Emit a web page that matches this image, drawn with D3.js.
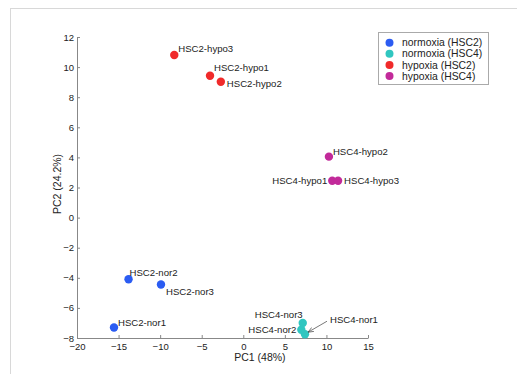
<!DOCTYPE html>
<html>
<head>
<meta charset="utf-8">
<script src="https://cdn.jsdelivr.net/npm/d3@7"></script>
<style>
  body { margin: 0; background: #fff; }
  text { font-family: "Liberation Sans", Arial, sans-serif; fill: #222; }
</style>
</head>
<body>
<div id="chart"></div>
<script>
// samples and their PCA scores
var sampleNames = ["HSC2-nor1", "HSC2-nor2", "HSC2-nor3",
                   "HSC4-nor1", "HSC4-nor2", "HSC4-nor3",
                   "HSC2-hypo1", "HSC2-hypo2", "HSC2-hypo3",
                   "HSC4-hypo1", "HSC4-hypo2", "HSC4-hypo3"];
var pc1Values = [-15.55, -13.8, -9.9, 7.42, 6.98, 7.15, -4.0, -2.7, -8.3, 10.7, 10.3, 11.4];
var pc2Values = [-7.3, -4.1, -4.45, -7.75, -7.45, -7.0, 9.43, 9.03, 10.8, 2.45, 4.05, 2.45];
var sampleGroup = [0, 0, 0, 1, 1, 1, 2, 2, 2, 3, 3, 3];

var groupNames = ["normoxia (HSC2)", "normoxia (HSC4)", "hypoxia (HSC2)", "hypoxia (HSC4)"];
var groupColors = ["#2b5cf2", "#30c6c0", "#f02a2a", "#c22a9a"];

var xTicks = [-20, -15, -10, -5, 0, 5, 10, 15];
var yTicks = [-8, -6, -4, -2, 0, 2, 4, 6, 8, 10, 12];

// label placement: [dx, dy, anchor]
var labelPos = {
    "HSC2-nor1": [4, -5, "start"],
    "HSC2-nor2": [1, -7, "start"],
    "HSC2-nor3": [5, 7, "start"],
    "HSC4-nor2": [-5, 0, "end"],
    "HSC4-nor3": [0, -8, "end"],
    "HSC2-hypo1": [4, -8, "start"],
    "HSC2-hypo2": [6, 2, "start"],
    "HSC2-hypo3": [4, -6, "start"],
    "HSC4-hypo1": [-5, 0, "end"],
    "HSC4-hypo2": [4, -5, "start"],
    "HSC4-hypo3": [6, 0, "start"]
};

var width = 517, height = 374;
var margin = {left: 77, right: 149, top: 37, bottom: 36};

var svg = d3.select("#chart").append("svg")
    .attr("width", width)
    .attr("height", height);

// light frame around the figure
svg.append("rect")
    .attr("x", 10.5).attr("y", 8.5)
    .attr("width", width).attr("height", height)
    .attr("fill", "none")
    .attr("stroke", "#d8d8d8");

var x = d3.scaleLinear().domain([-20, 15]).range([margin.left, width - margin.right]);
var y = d3.scaleLinear().domain([-8, 12]).range([height - margin.bottom, margin.top]);

var xAxis = svg.append("g")
    .attr("transform", "translate(0," + y(-8) + ")")
    .call(d3.axisBottom(x).tickValues(xTicks).tickSizeInner(-3).tickSizeOuter(0).tickPadding(5));

var yAxis = svg.append("g")
    .attr("transform", "translate(" + x(-20) + ",0)")
    .call(d3.axisLeft(y).tickValues(yTicks).tickSizeInner(-3).tickSizeOuter(0).tickPadding(3));

[xAxis, yAxis].forEach(function(ax) {
    ax.select(".domain").attr("stroke", "#888");
    ax.selectAll(".tick line").attr("stroke", "#888");
    ax.selectAll(".tick text")
        .style("font-family", "Liberation Sans, Arial, sans-serif")
        .style("font-size", "9.5px")
        .attr("fill", "#222");
});

// axis titles
svg.append("text")
    .attr("x", x(2)).attr("y", 361)
    .attr("text-anchor", "middle")
    .style("font-size", "10.5px")
    .text("PC1 (48%)");

svg.append("text")
    .attr("transform", "translate(61," + 184 + ") rotate(-90)")
    .attr("text-anchor", "middle")
    .style("font-size", "10.5px")
    .text("PC2 (24.2%)");

// points
var points = sampleNames.map(function(d, i) {
    return {name: d, x: pc1Values[i], y: pc2Values[i], g: sampleGroup[i]};
});

svg.append("g").selectAll("circle")
    .data(points)
    .enter().append("circle")
    .attr("cx", function(d) { return x(d.x); })
    .attr("cy", function(d) { return y(d.y); })
    .attr("r", 4.2)
    .attr("fill", function(d) { return groupColors[d.g]; });

svg.append("g").selectAll("text")
    .data(points.filter(function(d) { return labelPos[d.name]; }))
    .enter().append("text")
    .attr("x", function(d) { return x(d.x) + labelPos[d.name][0]; })
    .attr("y", function(d) { return y(d.y) + labelPos[d.name][1]; })
    .attr("dy", "0.35em")
    .attr("text-anchor", function(d) { return labelPos[d.name][2]; })
    .style("font-size", "9.6px")
    .text(function(d) { return d.name; });

// HSC4-nor1 label with arrow
var nor1 = points[3];
svg.append("defs").append("marker")
    .attr("id", "arrow")
    .attr("viewBox", "0 0 10 10")
    .attr("refX", 10).attr("refY", 5)
    .attr("markerWidth", 7).attr("markerHeight", 7)
    .attr("orient", "auto")
    .append("path")
    .attr("d", "M0,1 L10,5 L0,9")
    .attr("fill", "none")
    .attr("stroke", "#444")
    .attr("stroke-width", 1.2);

svg.append("line")
    .attr("x1", x(nor1.x) + 22).attr("y1", y(nor1.y) - 13)
    .attr("x2", x(nor1.x) + 3).attr("y2", y(nor1.y) - 2)
    .attr("stroke", "#555")
    .attr("stroke-width", 0.8)
    .attr("marker-end", "url(#arrow)");

svg.append("text")
    .attr("x", x(nor1.x) + 25).attr("y", y(nor1.y) - 15)
    .attr("dy", "0.35em")
    .style("font-size", "9.6px")
    .text(nor1.name);

// legend
var legend = svg.append("g").attr("transform", "translate(378,32)");
legend.append("rect")
    .attr("x", 0.5).attr("y", 0.5)
    .attr("width", 110).attr("height", 52)
    .attr("fill", "#fff")
    .attr("stroke", "#aaa");

var legendItem = legend.selectAll(".legend")
    .data(groupNames)
    .enter().append("g")
    .attr("class", "legend")
    .attr("transform", function(d, i) { return "translate(0," + (10.7 + 11.1 * i) + ")"; });

legendItem.append("circle")
    .attr("cx", 11.5).attr("cy", 0)
    .attr("r", 4)
    .attr("fill", function(d, i) { return groupColors[i]; });

legendItem.append("text")
    .attr("x", 24).attr("y", 0)
    .attr("dy", "0.35em")
    .style("font-size", "10.4px")
    .text(function(d) { return d; });
</script>
</body>
</html>
